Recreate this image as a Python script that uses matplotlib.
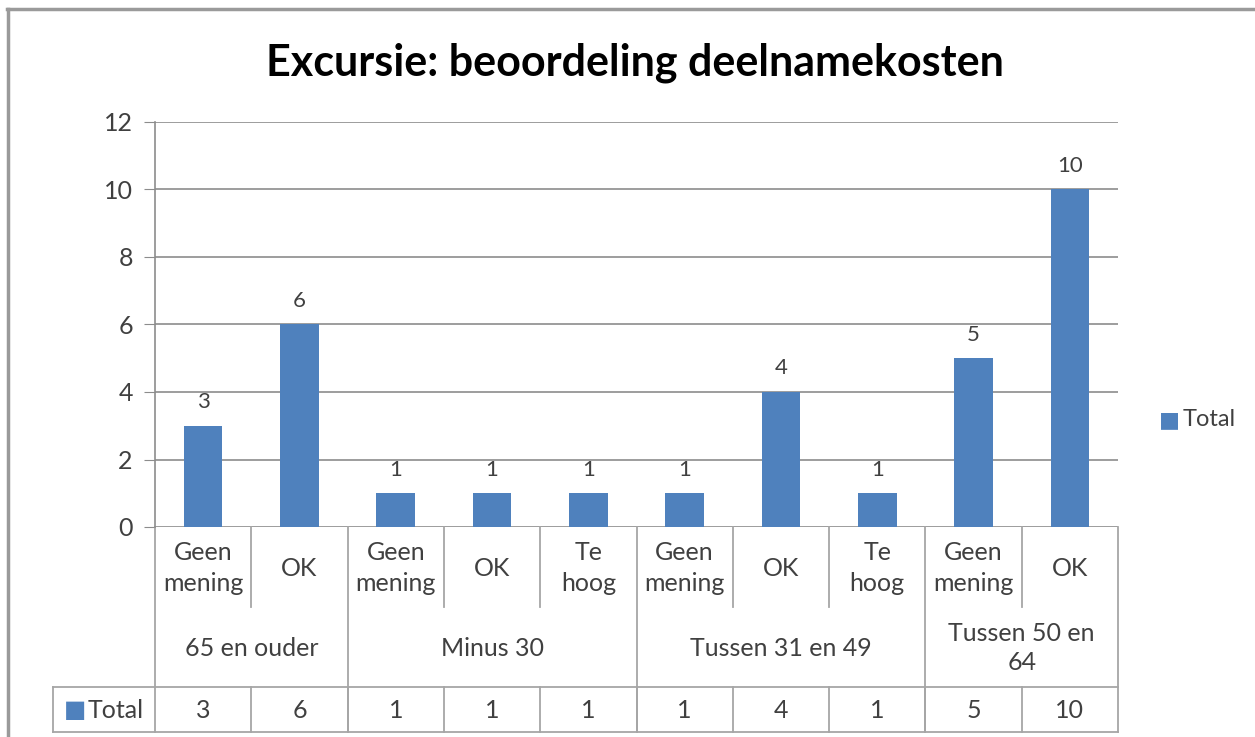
import matplotlib.pyplot as plt
import numpy as np
from matplotlib.lines import Line2D

plt.rcParams['font.family'] = ['Lato', 'DejaVu Sans']

# data
groups = ['65 en ouder', 'Minus 30', 'Tussen 31 en 49', 'Tussen 50 en\n64']
answers = [['Geen\nmening', 'OK'],
           ['Geen\nmening', 'OK', 'Te\nhoog'],
           ['Geen\nmening', 'OK', 'Te\nhoog'],
           ['Geen\nmening', 'OK']]
totals = [3, 6, 1, 1, 1, 1, 4, 1, 5, 10]

bar_color = '#4F81BD'
line_color = '#A6A6A6'
text_color = '#404040'

W, H = 1255, 737
fig = plt.figure(figsize=(W / 100, H / 100), dpi=100)

# axes placed by pixel edges
left, right, top, bottom = 155, 1118, 122, 527
ax = fig.add_axes([left / W, 1 - bottom / H, (right - left) / W, (bottom - top) / H])

n = len(totals)
x = np.arange(n) + 0.5
ax.bar(x, totals, width=0.4, color=bar_color, zorder=3)
for xi, v in zip(x, totals):
    ax.text(xi, v + 0.4, str(v), ha='center', va='bottom', fontsize=16, color=text_color)

ax.set_xlim(0, n)
ax.set_ylim(0, 12)
ax.set_yticks(range(0, 13, 2))
ax.set_xticks([])
ax.yaxis.grid(True, color='#8C8C8C', linewidth=1.2, zorder=0)
ax.tick_params(axis='y', length=8, color='#8C8C8C', labelsize=18, labelcolor=text_color, pad=8)
for s in ['top', 'right', 'bottom']:
    ax.spines[s].set_visible(False)
ax.spines['left'].set_color('#8C8C8C')
ax.spines['left'].set_linewidth(1.2)

# helpers for the table below the axis: x in data units, y in pixels
px = lambda yp: (bottom - yp) / (bottom - top)
trans = ax.get_xaxis_transform()

def hline(x0, x1, yp):
    ax.add_line(Line2D([x0, x1], [px(yp), px(yp)], transform=trans, color=line_color,
                       linewidth=1.3, clip_on=False))

def vline(xv, y0, y1):
    ax.add_line(Line2D([xv, xv], [px(y0), px(y1)], transform=trans, color=line_color,
                       linewidth=1.3, clip_on=False))

row_inner, row_group, row_total = 607, 687, 732
left_cell = (53 - left) / ((right - left) / n)

# category labels
i = 0
for g, ans in zip(groups, answers):
    start = i
    for a in ans:
        ax.text(i + 0.5, px(568), a, transform=trans, ha='center', va='center',
                fontsize=18, color=text_color, linespacing=1.4)
        if i != start:
            vline(i, bottom, row_inner)
        i += 1
    vline(start, bottom, row_total)
    ax.text((start + i) / 2, px(648), g, transform=trans, ha='center', va='center',
            fontsize=18, color=text_color, linespacing=1.3)
vline(n, bottom, row_total)
for k in range(1, n):
    vline(k, row_group, row_total)

# data table row
hline(left_cell, n, row_group)
hline(left_cell, n, row_total)
vline(left_cell, row_group, row_total)
for k, v in enumerate(totals):
    ax.text(k + 0.5, px(710), str(v), transform=trans, ha='center', va='center',
            fontsize=18, color=text_color)
ax.text(left_cell + 0.11, px(710), '\u25A0', transform=trans, ha='left', va='center',
        fontsize=17, color=bar_color, family='DejaVu Sans')
ax.text(left_cell + 0.36, px(710), 'Total', transform=trans, ha='left', va='center',
        fontsize=18, color=text_color)

# legend
fig.text(1159 / W, 1 - 420 / H, '\u25A0', ha='left', va='center', fontsize=16,
         color=bar_color, family='DejaVu Sans')
fig.text(1183 / W, 1 - 420 / H, 'Total', ha='left', va='center', fontsize=17, color=text_color)

# title
fig.text(635 / W, 1 - 63 / H, 'Excursie: beoordeling deelnamekosten', ha='center', va='center',
         fontsize=31, fontweight='bold', color='black')

# outer chart border (top and left visible)
fig.add_artist(Line2D([7 / W, 1], [1 - 9 / H, 1 - 9 / H], color='#9A9A9A', linewidth=2.5))
fig.add_artist(Line2D([8 / W, 8 / W], [0, 1 - 9 / H], color='#9A9A9A', linewidth=2.5))

fig.savefig('out.png', dpi=100)
